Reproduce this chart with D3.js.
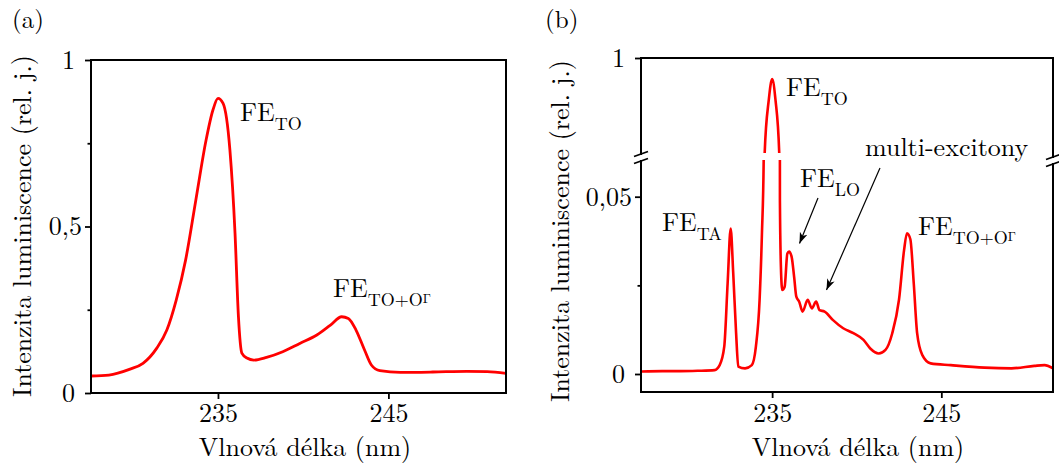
<!DOCTYPE html>
<html><head><meta charset="utf-8">
<script src="https://cdn.jsdelivr.net/npm/d3@7"></script>
<style>body{margin:0;background:#fff}</style>
</head><body>
<svg id="c" width="1059" height="463"></svg>
<script>
// ---------- data ----------
const xTickValues = [235, 245];
const yTicksA = [0, 0.5, 1];
const yTickLabelsA = ["0", "0,5", "1"];
const yMinorA = [0.25, 0.75];
const yTicksBLow = [0, 0.05];
const yTickLabelsBLow = ["0", "0,05"];
const yTicksBUp = [1];
const yTickLabelsBUp = ["1"];
const yMinorB = [0.025];

// panel (a): wavelength (nm), intensity
const wavelengthA = [227.55,228.6,229.8,230.6,231.4,232.0,232.55,233.1,233.7,234.3,234.7,235.0,235.3,235.7,236.0,236.2,236.4,236.7,237.1,237.85,238.8,239.8,240.8,241.6,242.26,242.65,243.1,243.6,244.0,244.5,245.7,247.6,249.6,250.8,251.9];
const intensityA  = [0.051,0.054,0.071,0.089,0.134,0.189,0.279,0.399,0.579,0.759,0.849,0.885,0.870,0.73,0.48,0.23,0.12,0.105,0.099,0.107,0.124,0.149,0.174,0.204,0.229,0.224,0.189,0.129,0.084,0.067,0.062,0.063,0.065,0.064,0.059];

// panel (b): wavelength (nm), intensity
const wavelengthB = [227.3,228.5,229.6,230.6,231.6,231.9,232.17,232.37,232.55,232.7,232.87,233.0,233.4,233.8,234.04,234.26,234.4,234.5,234.56,234.8,235.0,235.2,235.42,235.46,235.52,235.6,235.74,235.9,236.0,236.15,236.3,236.43,236.6,236.8,237.1,237.35,237.6,237.8,238.1,238.6,239.2,239.8,240.4,240.8,241.3,241.7,242.1,242.5,242.8,242.97,243.17,243.37,243.57,243.87,244.37,245.56,247.55,249.15,250.5,251.1,251.6];
const intensityB  = [0.0007,0.0008,0.0008,0.0009,0.0011,0.0025,0.0077,0.0256,0.0410,0.0285,0.0116,0.0021,0.0016,0.0025,0.0077,0.021,0.040,0.060,0.55,0.80,0.90,0.80,0.55,0.049,0.030,0.0237,0.0246,0.034,0.0345,0.0331,0.0274,0.0218,0.0204,0.0176,0.0209,0.0185,0.0204,0.018,0.0176,0.0152,0.0129,0.0115,0.0096,0.0072,0.0058,0.0068,0.0115,0.021,0.035,0.0397,0.038,0.0256,0.0115,0.0054,0.003,0.0025,0.0018,0.0016,0.0023,0.0025,0.0016];

const xLabel = "Vlnová délka (nm)";
const yLabel = "Intenzita luminiscence (rel. j.)";

// ---------- drawing ----------
const svg = d3.select("#c");
const RED = "#ff0000";
const FS = 26;
const SFS = 18;
const FONT = '"Latin Modern Roman"';

const defs = svg.append("defs");
defs.append("marker").attr("id","arr").attr("markerUnits","userSpaceOnUse")
  .attr("viewBox","0 -5 12 10").attr("refX",11).attr("refY",0)
  .attr("markerWidth",12).attr("markerHeight",10).attr("orient","auto")
  .append("path").attr("d","M0,-4 L11,0 L0,4 L3,0 Z").attr("fill","#000");

function styleAxis(g){
  g.attr("font-family", null);
  g.selectAll("path.domain").remove();
  g.selectAll("line").attr("stroke","#000").attr("stroke-width",1.8);
  g.selectAll("text").attr("font-size",FS).style("font-family",FONT).attr("fill","#000");
}

function txt(g, x, y){
  return g.append("text").attr("x",x).attr("y",y).attr("font-size",FS).style("font-family",FONT).attr("fill","#000");
}

function sub(g, x, y, main, subs){
  const t = txt(g, x, y);
  t.append("tspan").text(main);
  t.append("tspan").attr("font-size",SFS).attr("dy",9).text(subs);
  return t;
}

// ===== panel (a) =====
const xA = d3.scaleLinear([227.55, 251.9], [91, 506]);
const yA = d3.scaleLinear([0, 1], [393, 60]);
const A = svg.append("g");
const dataA = wavelengthA.map((w,i)=>[w,intensityA[i]]);
A.append("path").datum(dataA)
  .attr("d", d3.line().x(d=>xA(d[0])).y(d=>yA(d[1])).curve(d3.curveMonotoneX))
  .attr("fill","none").attr("stroke",RED).attr("stroke-width",2.8).attr("stroke-linejoin","round");

A.append("g").attr("transform","translate(0,393)")
  .call(d3.axisBottom(xA).tickValues(xTickValues).tickFormat(d3.format("d")).tickSize(6).tickSizeOuter(0).tickPadding(5))
  .call(styleAxis);
A.append("g").attr("transform","translate(91,0)")
  .call(d3.axisLeft(yA).tickValues(yTicksA).tickFormat((d,i)=>yTickLabelsA[i]).tickSize(6).tickSizeOuter(0).tickPadding(3))
  .call(styleAxis)
  .selectAll("text").attr("dx", (d,i)=> yTickLabelsA[i].includes(",") ? 0 : -7);
A.append("g").attr("transform","translate(91,0)")
  .call(d3.axisLeft(yA).tickValues(yMinorA).tickFormat("").tickSize(3.5).tickSizeOuter(0))
  .call(styleAxis);
A.append("rect").attr("x",91).attr("y",60).attr("width",415).attr("height",333)
  .attr("fill","none").attr("stroke","#000").attr("stroke-width",2);

txt(A,305,456).attr("text-anchor","middle").text(xLabel);
A.append("text").attr("transform","translate(31,226) rotate(-90)").attr("text-anchor","middle")
  .attr("font-size",FS).style("font-family",FONT).attr("fill","#000").text(yLabel);
txt(A,12,28).attr("font-size",25).text("(a)");

sub(A, 240, 121, "FE", "TO");
{
  const t = sub(A, 333, 297, "FE", "TO+O");
  t.append("tspan").attr("font-size",13).attr("dy",-3).text("Γ");
}

// ===== panel (b) =====
const L = 641, R = 1053, T = 58, Bt = 392;
const breakTop = 154, breakBot = 161;
const xB = d3.scaleLinear([227.25, 251.6], [L, R]);
const yBlow = d3.scaleLinear([0, 0.05], [374, 196.7]);
const yBup = d3.scaleLinear([0.55, 1], [153, T]);
const B = svg.append("g");

defs.append("clipPath").attr("id","clipLow").append("rect").attr("x",L).attr("y",breakBot-1).attr("width",R-L).attr("height",Bt-breakBot+1);
defs.append("clipPath").attr("id","clipUp").append("rect").attr("x",L).attr("y",T).attr("width",R-L).attr("height",breakTop-T-1);

const dataB = wavelengthB.map((w,i)=>[w,intensityB[i]]);
B.append("path").datum(dataB).attr("clip-path","url(#clipLow)")
  .attr("d", d3.line().x(d=>xB(d[0])).y(d=>yBlow(d[1])).curve(d3.curveMonotoneX))
  .attr("fill","none").attr("stroke",RED).attr("stroke-width",2.6).attr("stroke-linejoin","round");
B.append("path").datum(dataB).attr("clip-path","url(#clipUp)")
  .attr("d", d3.line().x(d=>xB(d[0])).y(d=>yBup(d[1])).curve(d3.curveMonotoneX))
  .attr("fill","none").attr("stroke",RED).attr("stroke-width",2.6).attr("stroke-linejoin","round");

B.append("g").attr("transform",`translate(0,${Bt})`)
  .call(d3.axisBottom(xB).tickValues(xTickValues).tickFormat(d3.format("d")).tickSize(6).tickSizeOuter(0).tickPadding(6))
  .call(styleAxis);
B.append("g").attr("transform",`translate(${L},0)`)
  .call(d3.axisLeft(yBlow).tickValues(yTicksBLow).tickFormat((d,i)=>yTickLabelsBLow[i]).tickSize(6).tickSizeOuter(0).tickPadding(3))
  .call(styleAxis)
  .selectAll("text").attr("dx", (d,i)=> yTickLabelsBLow[i].includes(",") ? 0 : -7);
B.append("g").attr("transform",`translate(${L},0)`)
  .call(d3.axisLeft(yBup).tickValues(yTicksBUp).tickFormat((d,i)=>yTickLabelsBUp[i]).tickSize(6).tickSizeOuter(0).tickPadding(3))
  .call(styleAxis)
  .selectAll("text").attr("dx",-7);
B.append("g").attr("transform",`translate(${L},0)`)
  .call(d3.axisLeft(yBlow).tickValues(yMinorB).tickFormat("").tickSize(3.5).tickSizeOuter(0))
  .call(styleAxis);

// frame with breaks
const frame = [[L,T,R,T],[L,Bt,R,Bt],[L,T,L,breakTop],[L,breakBot,L,Bt],[R,T,R,breakTop+3],[R,breakBot+3,R,Bt]];
frame.forEach(f=>B.append("line").attr("x1",f[0]).attr("y1",f[1]).attr("x2",f[2]).attr("y2",f[3])
  .attr("stroke","#000").attr("stroke-width",2).attr("stroke-linecap","square"));
[[L,breakTop],[L,breakBot],[R,breakTop+3],[R,breakBot+3]].forEach(p=>
  B.append("line").attr("x1",p[0]-7).attr("y1",p[1]+2.5).attr("x2",p[0]+7).attr("y2",p[1]-2.5)
   .attr("stroke","#000").attr("stroke-width",1.8));

txt(B,858,456).attr("text-anchor","middle").text(xLabel);
B.append("text").attr("transform","translate(569,231) rotate(-90)").attr("text-anchor","middle")
  .attr("font-size",FS).style("font-family",FONT).attr("fill","#000").text(yLabel);
txt(B,545,28).attr("font-size",25).text("(b)");

sub(B, 786, 96, "FE", "TO");
sub(B, 800, 187, "FE", "LO");
sub(B, 662, 231, "FE", "TA");
{
  const t = sub(B, 918, 235, "FE", "TO+O");
  t.append("tspan").attr("font-size",13).attr("dy",-3).text("Γ");
}
txt(B,865,156).text("multi-excitony");

B.append("line").attr("x1",818).attr("y1",198).attr("x2",799.5).attr("y2",243.5)
  .attr("stroke","#000").attr("stroke-width",1.2).attr("marker-end","url(#arr)");
B.append("line").attr("x1",880).attr("y1",168).attr("x2",826.5).attr("y2",290)
  .attr("stroke","#000").attr("stroke-width",1.2).attr("marker-end","url(#arr)");
</script>
</body></html>
